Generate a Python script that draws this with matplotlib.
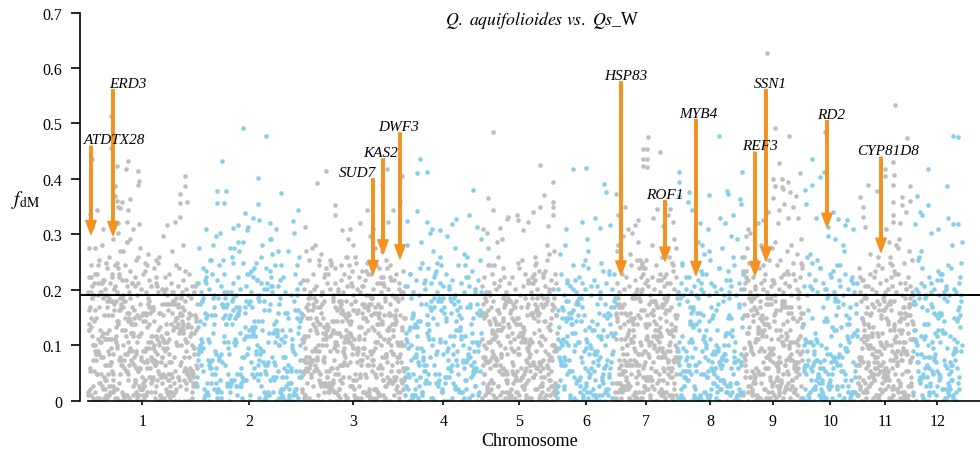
import numpy as np
import matplotlib.pyplot as plt

plt.rcParams['font.family'] = ['Liberation Serif', 'DejaVu Serif']
plt.rcParams['mathtext.fontset'] = 'stix'

# chromosomes (lengths in Mb)
chrom_labels = ["1", "2", "3", "4", "5", "6", "7", "8", "9", "10", "11", "12"]
chrom_lengths = [109, 105, 103, 77, 75, 58, 63, 65, 60, 55, 55, 49]
threshold = 0.19

# fdM per window, one character per window:
# index of the character in LEVELS * STEP = fdM value
LEVELS = "0123456789abcdefghijklmnopqrstuvwxyzABCDEFGHIJKLMNOPQRSTUVWXYZ"
STEP = 0.0053

# bulk of the windows (stored interleaved along the chromosome, stride 53)
low_1 = ("3kaP7d0qBn h2xE5m9cta Lr1fw8jAs4 0gNb6yk2oH e7pu3Ri9zc m1Gv5a0lqT 4dxj8BnK2s "
         "wf6hQ0ty3b k9oD1ge5rM 2uav7Jz4ic p8m0lSb3xf 6qEy1hk9dn tA5w2Ig7oj 3cVr8e0suz "
         "F1am6lp4vk 9bgO2xq5hy 0nLd7t3jwe i4rC8fz1mu 5kU0ao9gsb x2Pv6lc3qh 7dj1Hy0nte "
         "4wmX8kr2fi a9oB5g1zpu 0sK3cv7lxd 6hnGe2jq8b 1tyk4m9raw f3o0iuB7cg 5zs2DlA8e1 "
         "vq6hnx0j4p 9bmt3kaE7y 2wd8fr1ioc u0gz5sl6nh 3xq9eAj7bv 1kp4mC0ty8 oa6wd2fiL5 "
         "r9ghz0uc3n 7jl1sxeB4q b5vFk8m2yo 0dw6ta3pig 9fhr1nJz5c 4ue7ks0Gmx 2aq8yIb6lj "
         "D3o1wg9tvd 5ci0pE7rhn 8kzs2f4mau 1ybx6l0qej 3tBgo9wd5k 7nr2ic0vhs 0pz4am8fxl")
low_2 = ("5hN0ck8qBx 2fuR7ma4jz tH1oe9sW3l 8bgy0Kv6ip d3nM5wr1Ac x7Ej2kq0hu 4lzS9ag6tf "
         "1oV3mbe8yI s5cr0Fwn7k j2xP9di4gv Lq6a1uh3oz 7tmD0ye5bO 2lfk8Gsc4w nT6r1j9xai "
         "3Qpv0hg7md 5eUz2ku8ty 0Cbl4qo9fs w6iJ1rn3Xc 8aH5gv2pe0 my4Ntk7hz1 d9uR3sb6lo "
         "jK0wf5xa2q 7iP4ec1gnv tB8ym3Ek6r 0hsM9zo2ud 5Fcl1xwj7a q3Sg8bi0tp n6kV2mf4ye "
         "9rD1hz5oTc x4lG7aj0sw 2uQ6kdn8gb vI3mp9Ly0f")
low_3 = ("4am9qc1zkf 0hx7s3udBj 6lg2wo8Cnb t1ey5ir0mv 9kp3zA7fhc 2qsx6jG0al 8dn4ugw1ot "
         "b5yi0Hmc7e 3kr9zfv2sp 1jlK6axq4g 7owhB0dnu8 e2tmy5cI3i 0fz6bk9rsj 4vpE1lg7qa "
         "h8nx3wo0dM 5uyc2tj9ek 1mzb7Fiq4r s0ga6hL8lw 3xpdn9ov1f 8tcJ2keu5y 0jmr4Ab7zs "
         "6iNh1qg3wl 9dxo5fPa0v 2nkt7cBeyu 4Gms0jr8ph 1zbw6Ki3ql 7fOo2dx9ga 5Hvn0ct4me "
         "3yRs8kj1uz 0iwE6bq5hl 8pSr2fa7Dx 4ogM9nt1vc 6jQy3kez0s 1bHw5iu8Cm 9rdL2qa4hf "
         "0TpxE7lo3n 5gkJ1vw6cy 2uFb8sjN0t 7zeRo4mi9d 3aqKh1fxG6 0lwc5Ur2kp 8ynD4gjs7b "
         "6vIt0oex3m 1hPq9zaB5u 4fdw2Ccl8n 7ko0rsi3jg")
low_4 = ("2hK9ap0cwe 6s1ufE4bmz 0xjq8Ot3ly 5gc1iH9rdn 3kvB7wa0pm 8eT2zh5fsu 1oq6jMx9cb "
         "4lyG0tk3ai 7rd2Pmg8nw 0vS5ehq1zf 9cu3kJ6os2 jbN4x0lt8y 5ap1Dwi7gm 3rhQ9fv0ek "
         "6zs2cL4nu1 8dbF0oj5qx 2tyi7Ra3wh 0gmk9Ve4lc 4pu1Iz8sfb 7nE3oxd6jq 1whK5ayt0r "
         "9gc2lUm8ev 3kiH6fzo0b")
low_5 = ("1ca7kx0Bfn 4hz9qm2uej 0sw6rCdo3b 8ltg1yi5ak 2vpN0xf7mc 5jq3hzb9ue 0nGr4ow1tk "
         "7dai8s2lKy 3fme6gx0vp 9cqJ1bh4zw 1uot5kn8ri 6xaE2jd0sl 4yfm9gc3Pb 0hkw7ev1qz "
         "8tnA3ios5u 2mHx6la0jd 5rgc9Lbf1y 0kz4wp7etq 3vuM8hn2is 7ax0od5Fcj 1gml6zk9rb "
         "4eyS2wt0hf 9qxu5vD1pn 0cs3ia8jKo 6lbg2mz7Ew 2hr0dtf4ky 8uI5nxq1cv 3jao9Rse6g "
         "0mw7bl2zOi 5pkd1tyG8h 1fQc4nx0ur 7sgj3eT9av 4zom0kH6lb 9wd2Vqy5cx")
low_6 = ("1hb4Eo8ck2 6ua0fzm3jr 9sM2dx7gq1 3ew5ln0Iyb 7kth1ap4c0 2vFo8ji6sz 0mqg3Rdu5x "
         "4bel9wk1hn 8cyK0fr2ta 5oj7gHv3ms 1zi0dqu6bl 3xwC9ek2fp 6an1Ttc8hy 0jsr4mO7gd "
         "2kbv5qz1iu 9hLe0owa3x 4fcn8D2mtl 7yg1sPj5re")
low_7 = ("3ja8Fm1qc0 6ugz2xK5oh 0dtr9bi4we 7lNs1ky3fa 2pmv6cG0zj 5hqo8Ru1dx 9eBt3nw0gi "
         "1flM7sa4kb 4yzc0jH8pr 8mvd5Sq2ou 0hxE6tg1we 3kJa9lnc7f 6izq0bP4sy 2dUm8hjr5v "
         "7gox1Fwk3e 0taQ4cl9nb 5Lmf2uz8iq 9sKj0hd6xp 1wV3yre7gk 4bNc5ao0mt 8fIl2vqz1j "
         "3uhT9sd6ex 6Mkb0gi4wn 0cyR7pa3lf 2zoj5Gtq8m 7hxO1vus4d 4kbe9Cr0ia 1gnw6lJy3t "
         "8qfm2cz5oh")
low_8 = ("1ca6Ko3fh0 4ew8jN2bs9 0gm5Hd1ak7 3qr0xc6Fi2 8hfO4bl1ep 5dt2zj9aR0 2ko7gwM3cu "
         "6b1Eh0ymf4 9an3is5Ld1 0el7Tq2gcv 4jz1bo8Ix6 7fc0kP3hat 2mu5dG9e0r 8gs1wn4Sb3 "
         "0hJ6ciy2fl 5kq9Ua1od7 3bx0emH4gz 1rvN8tc6aj 6dp2If0hs5 9ikc3Qwu1e")
low_9 = ("2kb7ep0xcf 5gq1Hmz9ua 0jsr4dLi6w 8noF3ct1hy 3alz6kE0bv 7xMq2gu9fd 1erP5js4oc "
         "6wiK0nb8mt 4hzR3yaF1l 9dQp7kcU2g 0sNvx5eI8f 3oJw1biT6q 7uGa4Sm0hr 2lzV9dcO5y "
         "5Hkt0xj3gn 8wLe1pM7ib 1fRq6sa4Kz 4cDu2ho9mv 0yPl8tE5rk 6gjb3wQ1dn 9ex0Iai7sc "
         "2qo5fCz4uh 7mlk1tb8wg 3Fvr9yd0ej 5nic2ps6xa 0hzq4Go1kb 8ufm7tl3dw")
low_10 = ("1b4aMe0c7h 3g0kwK2d5n 7f1jHq0ia4 2cm8oE5b0s 6he1Rl3gx9 0d4pk7Ut2a 5j1fc8yG0m "
          "3b9iNe0q4w 8ko2hd5Dz1 0ra6Jc3lf7 4gm1sP9bj2 6t0eIwa5hk 1xc7Fo2d3n 9qL4iv0fb6 "
          "2u8Tmg1sk5 7hC0ajy3ez 3d5lOr9c0p")
low_11 = ("2ac0kf8Bm5 6hq1xd4jwe 0zgC7bs3lu 9on2it5Ey1 4fam0rk8cv 1hJ6dpg3wb 7xzN0sq5je "
          "3li9Rtk2ao 5mcG1fu8yh 0dw4Pbn7gr 8sK2exi0qz 2jT6lhv3cm 6oaF9kdw1f 1uM5gbs0ny "
          "4tqI8rej2x 9cO3lzi7ah 0mdS6fpk4w 5gvH1ob9ut 3xLe8jnq0s 7bc2Dy5rli 0hk4ma9gdf "
          "8Qzw1eo6tj 2usp7cn3bx 5lqa0iG9vk 1rf8hd4mye")
low_12 = ("3fK0ia7ds2 9bm4Gq1hx6 0ecN5lw8kz 4tj1oV3gu7 6ah9Hr0np2 1yE5dfc8mi 8ksq0Lb4xw "
          "2jgR7oe1tv 5zh3Cla9d0 7mI0fu6cry 0bxk4Mn2gs 3qFw8ej5io 9dat1P7hl0 4vcS6yk3mz "
          "2gJu0bo8fn")
low_fdm = [low_1, low_2, low_3, low_4, low_5, low_6, low_7, low_8, low_9, low_10, low_11, low_12]

# windows just above the line, one slot per Mb in order ('.' = nothing there)
mid_1 = "BG.KD.AQ.H E.MB.RF.C. JA.NE.GT.D .LB.HP.FA. K.DS.BI.E. .GM.AE.QC. H..BK..F.D ..J.E..BN. .C..G.A..H .E.B..K..D ..A.F..C.. .H..D.B..E"
mid_2 = ".E..B.J..G ..C.M..A.. F..K.D..H. .B..Q..E.. A.G..C..L. .D..H.B..J ..F.A..N.. C..E..I.B. .K..D..F.. G.B..P..A. ..H.C..E.."
mid_3 = "..C..F..A. .H..D..K.. B..G..E..M ..A.J..C.. F.B.H..D.K .E.A.N.C.G B.I.D.F.L. A.H.C.Q.E. J.B.G.D.M. C.K.A.F.H. .E.B.I.D"
mid_4 = "..D..H..B. .F..A..L.. C..J..E..G ..B..N..D. .H..C..F.. A..K..E..B .G..D..I.. C..F..B"
mid_5 = "D.G.B.K.A. H.E.C.N.F. .J..B..E.. G..C..L..A ..D.H..F.. B.E.K.C.I. A.G.D.M.B. F.C.H.E"
mid_6 = ".C..H..A.. F..D..K..B ..G..E..C. .J..A..F.. D..B..I..E ..H..C.."
mid_7 = "..E.B..H.C .G..D.K.A. F.C.J.B.H. E.M.D.A.G. C.K.F.B.N. D.H.A.E.L. C.G.B"
mid_8 = "B..E.A..C. .G.B..D.A. F..C.B..H. .A.E..D.B. .J.C..A.F. .B.D..K.A. .E.C."
mid_9 = ".C..F..B.. G.D.A.J.E. C.H.B.M.D. F.A.K.C.G. B.E.I.D.A. H.F.C.B.L."
mid_10 = ".D..A.H..C ..F.B..J.. E..C.A..G. .B..K..D.. A.H..C..F. .B..E"
mid_11 = "..B..F.A.. D.H.C.G.B. K.E.J.A.F. C.N.D.I.B. H.E.A.L.C. G.D.B"
mid_12 = "A..C.B..E. .D.A..G.B. .C..F.A..H .B.D..A.J. .C.B..E.A"
mid_fdm = [mid_1, mid_2, mid_3, mid_4, mid_5, mid_6, mid_7, mid_8, mid_9, mid_10, mid_11, mid_12]

# outlier windows above 0.3: (position within chromosome, fdM)
high_1 = [(2, 0.337), (4, 0.436), (9, 0.343), (23, 0.514), (23, 0.455), (27, 0.388), (27, 0.37),
          (29, 0.424), (29, 0.361), (30, 0.35), (32, 0.347), (34, 0.358), (38, 0.417), (39, 0.322),
          (40, 0.433), (40, 0.343), (42, 0.364), (50, 0.415), (51, 0.397), (50, 0.389), (51, 0.319),
          (79, 0.316), (87, 0.322), (92, 0.373), (92, 0.356), (92, 0.331), (97, 0.406), (97, 0.388),
          (99, 0.358), (15, 0.31), (30, 0.32), (45, 0.31)]
high_2 = [(20, 0.379), (20, 0.356), (25, 0.432), (29, 0.378), (27, 0.356), (41, 0.316), (46, 0.492),
          (48, 0.339), (56, 0.33), (61, 0.402), (61, 0.355), (62, 0.326), (69, 0.477), (73, 0.32),
          (84, 0.374), (96, 0.324), (101, 0.344), (9, 0.31), (36, 0.312), (79, 0.31)]
high_3 = [(3, 0.313), (15, 0.393), (24, 0.415), (33, 0.352), (33, 0.334), (40, 0.308), (58, 0.32),
          (65, 0.343), (80, 0.39), (85, 0.418), (86, 0.322), (91, 0.343), (98, 0.361), (100, 0.406),
          (48, 0.31), (71, 0.31)]
high_4 = [(2, 0.324), (12, 0.41), (12, 0.342), (15, 0.435), (22, 0.413), (22, 0.323), (27, 0.31),
          (47, 0.319), (51, 0.328), (64, 0.334), (68, 0.38), (72, 0.313), (35, 0.308)]
high_5 = [(6, 0.365), (11, 0.485), (11, 0.343), (25, 0.328), (26, 0.331), (35, 0.334), (36, 0.326),
          (46, 0.322), (51, 0.34), (58, 0.425), (58, 0.349), (62, 0.371), (71, 0.395), (71, 0.358),
          (71, 0.349), (71, 0.334), (1, 0.31), (18, 0.312), (41, 0.308), (66, 0.315)]
high_6 = [(16, 0.418), (29, 0.42), (47, 0.39), (49, 0.376), (25, 0.322), (38, 0.329), (53, 0.316),
          (9, 0.31), (43, 0.312)]
high_7 = [(1, 0.373), (3, 0.334), (10, 0.349), (20, 0.316), (28, 0.453), (28, 0.436), (28, 0.423),
          (32, 0.453), (32, 0.436), (33, 0.475), (32, 0.421), (42, 0.346), (45, 0.449), (50, 0.355),
          (53, 0.334), (55, 0.346), (58, 0.322), (38, 0.33), (23, 0.325), (13, 0.31), (48, 0.315)]
high_8 = [(1, 0.412), (1, 0.395), (1, 0.37), (10, 0.359), (11, 0.377), (14, 0.343), (31, 0.371),
          (41, 0.477), (49, 0.379), (50, 0.373), (62, 0.364), (63, 0.355), (64, 0.413), (42, 0.33),
          (47, 0.32), (55, 0.335), (22, 0.32), (30, 0.31)]
high_9 = [(24, 0.627), (32, 0.491), (46, 0.477), (36, 0.429), (30, 0.40), (39, 0.40), (45, 0.394),
          (39, 0.385), (32, 0.388), (40, 0.382), (47, 0.376), (41, 0.355), (36, 0.343), (57, 0.41),
          (53, 0.37), (30, 0.365), (25, 0.34), (50, 0.35), (55, 0.33), (15, 0.32), (5, 0.31),
          (20, 0.325), (35, 0.32), (45, 0.33)]
high_10 = [(9, 0.436), (9, 0.389), (17, 0.403), (22, 0.485), (21, 0.412), (2, 0.38), (3, 0.355),
           (35, 0.328), (44, 0.325), (42, 0.316), (25, 0.313), (30, 0.34), (13, 0.33), (50, 0.31)]
high_11 = [(37, 0.533), (49, 0.473), (35, 0.43), (27, 0.418), (27, 0.405), (36, 0.407), (10, 0.389),
           (19, 0.379), (35, 0.389), (52, 0.388), (44, 0.367), (52, 0.361), (44, 0.352), (35, 0.358),
           (2, 0.367), (5, 0.349), (5, 0.331), (7, 0.313), (35, 0.335), (35, 0.323), (28, 0.31),
           (42, 0.32), (48, 0.34)]
high_12 = [(40, 0.477), (45, 0.475), (15, 0.418), (34, 0.388), (4, 0.37), (15, 0.353), (7, 0.34),
           (9, 0.334), (2, 0.319), (40, 0.319), (45, 0.319), (25, 0.31), (35, 0.33)]
high_fdm = [high_1, high_2, high_3, high_4, high_5, high_6, high_7, high_8, high_9, high_10,
            high_11, high_12]

# candidate genes
gene_names = ["ATDTX28", "ERD3", "SUD7", "KAS2", "DWF3", "HSP83", "ROF1", "MYB4", "REF3",
              "SSN1", "RD2", "CYP81D8"]
gene_chrom = [1, 1, 3, 3, 3, 7, 7, 8, 9, 9, 10, 11]
gene_pos = [3, 25, 71, 81, 98, 6, 50, 18, 12, 23, 24, 23]
gene_fdm = [0.300, 0.298, 0.228, 0.265, 0.256, 0.227, 0.252, 0.226, 0.226, 0.252, 0.313, 0.268]
label_fdm = [0.459, 0.561, 0.400, 0.436, 0.483, 0.575, 0.361, 0.507, 0.448, 0.561, 0.505, 0.439]
label_dx = [17, 11, -11, -1.5, -1, 3.5, 0, 2, 3.5, 3, 3, 5]  # text offset, points

colors = ["#BEBEBE", "#87CEEB"]
orange = "#F39220"

starts = np.concatenate([[0], np.cumsum(chrom_lengths)[:-1]])

fig = plt.figure(figsize=(9.8, 4.52), dpi=100)
ax = fig.add_axes([0.0816, 0.1113, 0.9184, 0.8588])

for i in range(12):
    L = chrom_lengths[i]
    # bulk windows
    s = low_fdm[i].replace(" ", "")
    n = len(s)
    y = np.array([LEVELS.index(c) for c in s]) * STEP
    slot = (np.arange(n) * 53) % n
    x = starts[i] + (slot + 0.5) / n * L
    # windows above the line
    m = mid_fdm[i].replace(" ", "")
    mk = np.array([k for k, c in enumerate(m) if c != "."])
    my = np.array([LEVELS.index(c) for c in m if c != "."]) * STEP
    mx = starts[i] + (mk + 0.5) / len(m) * L
    # outliers
    hx = starts[i] + np.array([p for p, _ in high_fdm[i]])
    hy = np.array([v for _, v in high_fdm[i]])
    ax.scatter(np.concatenate([x, mx, hx]), np.concatenate([y, my, hy]), s=11,
               color=colors[i % 2], linewidths=0, zorder=2)

ax.axhline(threshold, color="black", lw=1.4, zorder=3)

for name, c, p, tip, tail, dx in zip(gene_names, gene_chrom, gene_pos, gene_fdm, label_fdm, label_dx):
    gx = starts[c - 1] + p
    ax.annotate("", xy=(gx, tip), xytext=(gx, tail),
                arrowprops=dict(color=orange, width=1.8, headwidth=7.5, headlength=10, shrink=0),
                zorder=4)
    ax.annotate(name, xy=(gx, tail), xytext=(dx, 2), textcoords="offset points",
                ha="center", va="baseline", fontsize=11, fontstyle="italic", zorder=5)

ax.text(0.514, 0.981, r"$\mathit{Q.\ aquifolioides\ vs.\ Qs}$_W", transform=ax.transAxes,
        ha="center", va="center", fontsize=12.8)

ax.set_xlim(-8, 892)
ax.set_ylim(0, 0.7)
ax.spines["top"].set_visible(False)
ax.spines["right"].set_visible(False)
ax.spines["bottom"].set_bounds(0, 892)
ax.spines["left"].set_linewidth(1.2)
ax.spines["bottom"].set_linewidth(1.2)

ax.set_xticks(starts + np.array(chrom_lengths) / 2)
ax.set_xticklabels(chrom_labels)
ax.set_yticks(np.arange(0, 0.71, 0.1))
ax.set_yticklabels(["0", "0.1", "0.2", "0.3", "0.4", "0.5", "0.6", "0.7"])
ax.tick_params(axis="y", direction="out", length=6.5, width=1.2, pad=6, labelsize=11.5)
ax.tick_params(axis="x", direction="out", length=2.7, width=1.2, pad=6, labelsize=11.5)

ax.set_xlabel("Chromosome", fontsize=13, labelpad=2)
ax.set_ylabel(r"$f_{\mathrm{dM}}$", rotation=0, fontsize=14, ha="center", va="center")
ax.yaxis.set_label_coords(-0.061, 0.52)

fig.savefig("out.png", dpi=100)
